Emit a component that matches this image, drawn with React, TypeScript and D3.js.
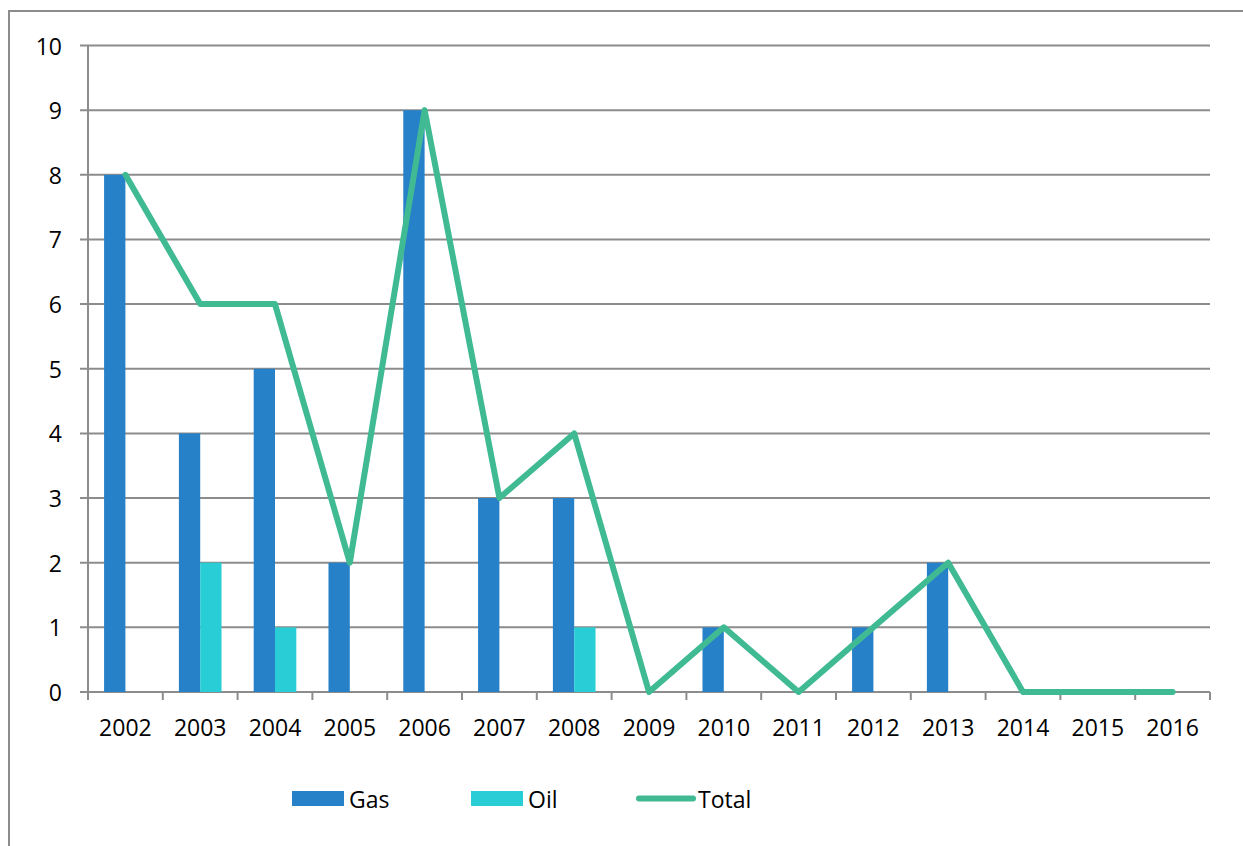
import React, { useEffect } from "react";
import * as d3 from "d3";

const years = ["2002","2003","2004","2005","2006","2007","2008","2009","2010","2011","2012","2013","2014","2015","2016"];
const gas = [8, 4, 5, 2, 9, 3, 3, 0, 1, 0, 1, 2, 0, 0, 0];
const oil = [0, 2, 1, 0, 0, 0, 1, 0, 0, 0, 0, 0, 0, 0, 0];
const total = [8, 6, 6, 2, 9, 3, 4, 0, 1, 0, 1, 2, 0, 0, 0];
const yTicks = [0, 1, 2, 3, 4, 5, 6, 7, 8, 9, 10];

const W = 1243, H = 846;
const GAS = "#2781C8", OIL = "#29CDD6", TOT = "#3FBA92", GRID = "#8C8C8C";
const FONT = "'Open Sans', sans-serif";

export default function App() {
  useEffect(() => {
    document.body.style.margin = "0";
  }, []);
  const x = d3.scaleBand<string>().domain(years).range([88, 1210]).paddingInner(0).paddingOuter(0);
  const y = d3.scaleLinear().domain([0, 10]).range([692, 45.5]);
  const bw = x.bandwidth() * 0.285;
  const cx = (yr: string) => (x(yr) as number) + x.bandwidth() / 2;
  const line = d3.line<number>().x((_, i) => cx(years[i])).y((d) => y(d));
  const boundaries = years.map((yr) => x(yr) as number).concat([1210]);

  return (
    <svg width={W} height={H} style={{ position: "absolute", left: 0, top: 0, background: "#fff" }}>
      <rect x={9} y={11} width={W + 20} height={H + 20} fill="#fff" stroke={GRID} strokeWidth={2} />
      {yTicks.map((t) => (
        <g key={t}>
          <line x1={80} x2={1210} y1={y(t)} y2={y(t)} stroke={GRID} strokeWidth={2} />
          <text x={62} y={y(t)} textAnchor="end" dominantBaseline="central" fontFamily={FONT} fontSize={23} fill="#000">{t}</text>
        </g>
      ))}
      <line x1={88} x2={88} y1={y(10)} y2={700} stroke={GRID} strokeWidth={2} />
      {boundaries.map((b, i) => (
        <line key={i} x1={b} x2={b} y1={y(0)} y2={700} stroke={GRID} strokeWidth={2} />
      ))}
      {years.map((yr, i) => (
        <g key={yr}>
          {gas[i] > 0 && <rect x={cx(yr) - bw} y={y(gas[i])} width={bw} height={y(0) - y(gas[i])} fill={GAS} />}
          {oil[i] > 0 && <rect x={cx(yr)} y={y(oil[i])} width={bw} height={y(0) - y(oil[i])} fill={OIL} />}
          <text x={cx(yr)} y={727} textAnchor="middle" dominantBaseline="central" fontFamily={FONT} fontSize={23} fill="#000">{yr}</text>
        </g>
      ))}
      <path d={line(total) || ""} fill="none" stroke={TOT} strokeWidth={6} strokeLinejoin="round" strokeLinecap="round" />
      <g fontFamily={FONT} fontSize={23} fill="#000">
        <rect x={292} y={791} width={52} height={15} fill={GAS} />
        <text x={349} y={798.5} dominantBaseline="central">Gas</text>
        <rect x={471} y={791} width={52} height={15} fill={OIL} />
        <text x={528} y={798.5} dominantBaseline="central">Oil</text>
        <line x1={639} x2={693} y1={798.5} y2={798.5} stroke={TOT} strokeWidth={6} strokeLinecap="round" />
        <text x={698} y={798.5} dominantBaseline="central">Total</text>
      </g>
    </svg>
  );
}
